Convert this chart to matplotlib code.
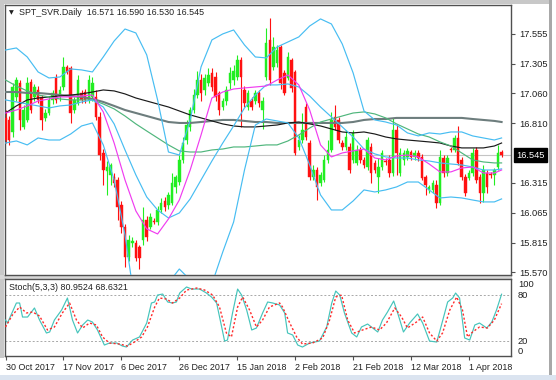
import matplotlib
matplotlib.use("Agg")
import matplotlib.pyplot as plt
import numpy as np

plt.rcParams['font.family'] = ['Liberation Sans', 'DejaVu Sans']

# ---------------- data ----------------
symbol_title = "SPT_SVR.Daily"
last_ohlc = [16.571, 16.590, 16.530, 16.545]

opens = [16.855, 16.838, 16.738, 17.03, 17.146, 16.78, 16.838, 17.155, 17.03, 17.088,
         17.03, 16.855, 16.896, 17.005, 17.188, 17.03, 17.113, 17.28, 17.27, 16.921,
         16.98, 17.063, 17.071, 17.005, 17.03, 17.03, 16.865, 16.563, 16.41, 16.38,
         16.36, 16.34, 16.13, 15.95, 15.70, 15.81, 15.81, 15.78, 15.84, 16.005,
         15.95, 16.00, 15.99, 16.09, 16.16, 16.13, 16.15, 16.28, 16.32, 16.505,
         16.67, 16.78, 16.92, 17.05, 17.17, 17.09, 17.15, 17.23, 17.20, 17.06,
         16.95, 17.00, 17.15, 17.17, 17.20, 17.34, 17.09, 16.95, 17.00, 17.00,
         17.06, 16.92, 17.20, 17.505, 17.28, 17.31, 17.445, 17.23, 17.19, 17.338,
         17.238, 16.613, 16.672, 16.946, 16.646, 16.363, 16.422, 16.313, 16.338, 16.505,
         16.588, 16.863, 16.838, 16.646, 16.613, 16.613, 16.505, 16.48, 16.588, 16.505,
         16.446, 16.613, 16.48, 16.363, 16.446, 16.496, 16.505, 16.396, 16.755, 16.396,
         16.505, 16.53, 16.571, 16.53, 16.563, 16.53, 16.363, 16.255, 16.255, 16.296,
         16.146, 16.521, 16.396, 16.596, 16.588, 16.688, 16.505, 16.363, 16.355, 16.396,
         16.588, 16.363, 16.23, 16.396, 16.388, 16.38, 16.446, 16.571]
highs = [16.92, 16.87, 17.15, 17.20, 17.17, 16.96, 17.196, 17.18, 17.14, 17.12,
         17.05, 16.93, 17.04, 17.09, 17.22, 17.12, 17.363, 17.30, 17.29, 17.03,
         17.21, 17.09, 17.10, 17.21, 17.196, 17.088, 16.907, 16.60, 16.50, 16.48,
         16.40, 16.36, 16.16, 15.97, 15.88, 15.86, 15.84, 15.80, 16.11, 16.04,
         16.06, 16.02, 16.12, 16.19, 16.20, 16.24, 16.40, 16.38, 16.55, 16.70,
         16.84, 16.95, 17.10, 17.25, 17.22, 17.22, 17.27, 17.27, 17.24, 17.08,
         17.02, 17.12, 17.28, 17.30, 17.38, 17.36, 17.12, 17.09, 17.03, 17.09,
         17.09, 17.03, 17.605, 17.69, 17.53, 17.46, 17.46, 17.255, 17.405, 17.355,
         17.255, 16.713, 16.896, 16.98, 16.672, 16.463, 16.446, 16.405, 16.546, 16.672,
         16.905, 16.963, 16.863, 16.672, 16.755, 16.646, 16.755, 16.63, 16.613, 16.53,
         16.696, 16.646, 16.505, 16.521, 16.588, 16.521, 16.546, 16.855, 16.80, 16.605,
         16.588, 16.605, 16.588, 16.588, 16.588, 16.555, 16.38, 16.296, 16.338, 16.338,
         16.588, 16.546, 16.546, 16.613, 16.713, 16.788, 16.53, 16.388, 16.422, 16.605,
         16.613, 16.388, 16.463, 16.422, 16.405, 16.438, 16.63, 16.590]
lows = [16.65, 16.63, 16.70, 17.00, 16.755, 16.76, 16.82, 16.90, 17.00, 16.98,
        16.755, 16.83, 16.88, 16.97, 16.98, 17.00, 17.09, 17.22, 16.813, 16.90,
        16.96, 16.98, 16.98, 16.98, 17.00, 16.84, 16.507, 16.297, 16.213, 16.30,
        16.28, 16.005, 15.90, 15.615, 15.66, 15.78, 15.66, 15.60, 15.80, 15.83,
        15.93, 15.97, 15.96, 16.06, 16.08, 16.10, 16.13, 16.23, 16.30, 16.48,
        16.64, 16.75, 16.90, 17.02, 17.00, 17.05, 17.12, 17.08, 17.00, 16.88,
        16.92, 16.96, 17.10, 17.13, 17.17, 16.78, 16.95, 16.92, 16.92, 16.97,
        16.95, 16.76, 17.17, 17.13, 17.255, 17.28, 17.10, 17.045, 17.17, 17.07,
        16.546, 16.588, 16.646, 16.672, 16.338, 16.338, 16.172, 16.288, 16.321, 16.48,
        16.571, 16.755, 16.646, 16.588, 16.588, 16.396, 16.48, 16.463, 16.48, 16.438,
        16.422, 16.313, 16.396, 16.23, 16.422, 16.463, 16.363, 16.371, 16.38, 16.371,
        16.463, 16.505, 16.505, 16.505, 16.496, 16.338, 16.213, 16.23, 16.23, 16.105,
        16.13, 16.363, 16.371, 16.571, 16.571, 16.463, 16.338, 16.205, 16.338, 16.371,
        16.313, 16.146, 16.155, 16.23, 16.355, 16.296, 16.422, 16.530]
closes = [16.672, 16.672, 17.113, 17.171, 16.838, 16.921, 17.146, 16.921, 17.113, 17.005,
          16.838, 16.896, 17.005, 17.063, 17.005, 17.088, 17.28, 17.238, 16.896, 17.005,
          17.171, 17.005, 17.005, 17.171, 17.146, 16.863, 16.548, 16.422, 16.45, 16.46,
          16.31, 16.11, 15.95, 15.70, 15.84, 15.83, 15.69, 15.69, 16.005, 15.86,
          16.03, 15.99, 16.09, 16.15, 16.11, 16.21, 16.31, 16.36, 16.505, 16.65,
          16.80, 16.92, 17.05, 17.17, 17.06, 17.19, 17.21, 17.11, 17.03, 16.92,
          17.00, 17.09, 17.23, 17.25, 17.34, 17.20, 16.98, 17.06, 16.95, 17.06,
          16.98, 17.00, 17.48, 17.17, 17.445, 17.42, 17.146, 17.06, 17.365, 17.105,
          16.563, 16.672, 16.755, 16.696, 16.363, 16.422, 16.28, 16.38, 16.505, 16.588,
          16.838, 16.78, 16.672, 16.613, 16.696, 16.422, 16.73, 16.588, 16.505, 16.463,
          16.672, 16.396, 16.422, 16.446, 16.563, 16.488, 16.396, 16.755, 16.563, 16.563,
          16.563, 16.58, 16.53, 16.563, 16.521, 16.355, 16.296, 16.28, 16.313, 16.146,
          16.53, 16.396, 16.521, 16.588, 16.688, 16.48, 16.363, 16.23, 16.396, 16.563,
          16.338, 16.23, 16.422, 16.28, 16.38, 16.422, 16.563, 16.545]

# indicator lines, sampled at these bar positions
ind_x = [0, 3, 6, 9, 12, 15, 18, 21, 24, 27, 30, 33, 36, 39, 42, 45, 48, 51, 54, 57,
         60, 63, 66, 69, 72, 75, 78, 81, 84, 87, 90, 93, 96, 99, 102, 105, 108, 111, 114,
         117, 120, 123, 126, 129, 132, 135, 137]
bb_upper = [17.421, 17.438, 17.363, 17.238, 17.188, 17.196, 17.263, 17.255, 17.238, 17.363,
            17.496, 17.596, 17.563, 17.380, 17.005, 16.571, 16.546, 16.838, 17.280, 17.505,
            17.555, 17.588, 17.463, 17.363, 17.355, 17.446, 17.488, 17.530, 17.621, 17.680,
            17.638, 17.471, 17.230, 16.913, 16.838, 16.821, 16.796, 16.730, 16.705, 16.730,
            16.721, 16.738, 16.738, 16.705, 16.688, 16.671, 16.688]
bb_middle = [17.005, 16.988, 16.971, 16.955, 16.938, 16.955, 16.963, 16.988, 17.005, 16.946,
             16.805, 16.588, 16.380, 16.196, 16.088, 16.021, 16.063, 16.180, 16.338, 16.496,
             16.646, 16.788, 16.938, 17.046, 17.130, 17.130, 17.138, 17.113, 17.038, 16.946,
             16.863, 16.780, 16.696, 16.596, 16.555, 16.530, 16.521, 16.521, 16.505, 16.496,
             16.480, 16.471, 16.463, 16.446, 16.421, 16.421, 16.430]
bb_lower = [16.646, 16.663, 16.630, 16.688, 16.671, 16.671, 16.721, 16.788, 16.813, 16.630,
            16.338, 15.880, 15.255, 15.046, 15.155, 15.480, 15.596, 15.505, 15.388, 15.471,
            15.738, 15.988, 16.421, 16.796, 16.846, 16.830, 16.813, 16.688, 16.463, 16.213,
            16.088, 16.088, 16.163, 16.255, 16.238, 16.255, 16.280, 16.321, 16.321, 16.255,
            16.188, 16.196, 16.188, 16.171, 16.155, 16.155, 16.180]
ma_magenta = [16.896, 16.921, 16.955, 16.996, 17.013, 17.030, 17.030, 17.038, 17.046, 16.905,
              16.646, 16.338, 16.080, 15.930, 15.888, 16.013, 16.171, 16.421, 16.713, 17.021,
              17.071, 17.096, 17.105, 17.113, 17.121, 17.171, 17.213, 17.130, 16.921, 16.630,
              16.530, 16.563, 16.580, 16.596, 16.521, 16.505, 16.538, 16.546, 16.530, 16.471,
              16.405, 16.405, 16.438, 16.446, 16.396, 16.396, 16.421]
ma_green = [17.171, 17.121, 17.080, 17.046, 17.030, 17.013, 17.005, 17.005, 17.005, 16.971,
            16.930, 16.871, 16.805, 16.746, 16.688, 16.630, 16.580, 16.571, 16.571, 16.588,
            16.596, 16.613, 16.613, 16.621, 16.630, 16.630, 16.663, 16.713, 16.771, 16.821,
            16.846, 16.871, 16.896, 16.905, 16.888, 16.855, 16.805, 16.763, 16.721, 16.696,
            16.655, 16.621, 16.563, 16.505, 16.488, 16.480, 16.480]
ma_black = [16.896, 16.955, 17.005, 17.021, 17.030, 17.038, 17.046, 17.055, 17.071, 17.088,
            17.080, 17.055, 17.021, 16.996, 16.971, 16.946, 16.913, 16.880, 16.855, 16.830,
            16.805, 16.788, 16.780, 16.780, 16.788, 16.796, 16.813, 16.821, 16.805, 16.788,
            16.763, 16.738, 16.730, 16.738, 16.721, 16.696, 16.680, 16.671, 16.663, 16.655,
            16.646, 16.621, 16.605, 16.605, 16.605, 16.621, 16.646]
ma_gray = [17.071, 17.071, 17.063, 17.063, 17.055, 17.046, 17.038, 17.030, 17.013, 16.988,
           16.955, 16.921, 16.896, 16.871, 16.846, 16.821, 16.813, 16.813, 16.821, 16.830,
           16.838, 16.838, 16.830, 16.821, 16.821, 16.813, 16.813, 16.813, 16.813, 16.813,
           16.813, 16.813, 16.821, 16.838, 16.846, 16.846, 16.855, 16.855, 16.855, 16.855,
           16.855, 16.855, 16.855, 16.846, 16.838, 16.830, 16.821]

stoch_main_x = [0, 0.55, 3.0, 3.9, 4.7, 6.1, 8.0, 9.4, 11.3, 12.2, 13.5, 15.5, 17.1, 18.5,
                19.9, 21.3, 22.7, 24.0, 25.4, 27.3, 28.7, 30.7, 32.3, 33.4, 35.1, 37.0, 39.0,
                40.3, 41.2, 42.0, 43.4, 44.8, 46.1, 47.2, 48.1, 50.0, 51.4, 53.6, 55.5, 56.9,
                58.3, 59.7, 60.5, 61.3, 62.7, 64.1, 65.2, 66.6, 68.0, 69.3, 71.0, 72.4, 73.8,
                75.7, 77.1, 77.9, 79.3, 80.7, 82.0, 84.0, 86.7, 88.7, 90.1, 91.2, 92.3, 93.6,
                95.6, 97.0, 98.3, 100.0, 101.4, 102.8, 104.1, 105.5, 107.2, 108.3, 109.9,
                111.6, 113.8, 115.2, 117.1, 119.1, 120.4, 122.1, 123.5, 124.3, 125.4, 126.8,
                128.2, 129.6, 130.9, 132.9, 134.3, 135.6, 137.0]
stoch_main = [47.3, 43.4, 69.5, 69.5, 51.2, 51.2, 63.0, 47.3, 30.4, 31.7, 47.3, 60.4, 76.0,
              47.3, 30.4, 40.8, 47.3, 44.7, 34.3, 14.7, 17.3, 17.3, 13.4, 12.1, 21.2, 25.2,
              43.4, 69.5, 70.8, 79.9, 81.2, 70.8, 69.5, 70.8, 82.5, 90.4, 87.7, 87.7, 82.5,
              77.3, 69.5, 38.2, 19.9, 21.2, 56.5, 87.7, 79.9, 60.4, 34.3, 36.9, 56.5, 70.8,
              69.5, 66.9, 56.5, 30.4, 27.8, 14.7, 12.1, 17.3, 19.9, 38.2, 69.5, 85.1, 79.9,
              56.5, 30.4, 25.2, 38.2, 42.1, 36.9, 31.7, 47.3, 57.8, 72.1, 56.5, 31.7, 43.4,
              55.2, 43.4, 19.9, 18.6, 40.8, 70.8, 76.0, 82.5, 76.0, 23.9, 21.2, 40.8, 43.4,
              36.9, 44.7, 60.4, 80.9524]
stoch_sig_x = [0, 1.9, 3.9, 5.8, 7.5, 9.4, 11.6, 13.5, 15.7, 17.7, 19.6, 21.3, 23.2, 25.1,
               26.8, 28.7, 31.5, 33.7, 35.6, 37.6, 39.2, 41.2, 42.5, 44.5, 46.1, 48.1, 50.0,
               52.8, 55.0, 57.2, 59.1, 61.0, 62.4, 64.1, 65.5, 67.4, 69.3, 71.0, 72.9, 75.7,
               76.5, 78.5, 80.4, 82.0, 84.8, 87.6, 89.5, 91.2, 92.8, 94.5, 96.4, 98.6, 101.1,
               103.3, 105.2, 107.5, 109.4, 111.0, 113.5, 115.2, 117.1, 119.1, 120.7, 122.7,
               124.6, 126.2, 127.6, 129.0, 130.9, 133.1, 135.0, 137.0]
stoch_signal = [38.2, 53.8, 64.3, 56.5, 57.8, 52.5, 34.3, 38.2, 56.5, 69.5, 47.3, 36.9, 43.4,
                40.8, 25.2, 17.3, 16.0, 13.4, 18.6, 25.2, 38.2, 64.3, 76.0, 74.7, 69.5, 76.0,
                86.4, 89.0, 86.4, 79.9, 64.3, 30.4, 25.2, 64.3, 77.3, 60.4, 38.2, 47.3, 64.3,
                69.5, 64.3, 43.4, 25.2, 16.0, 17.3, 23.9, 47.3, 77.3, 79.9, 47.3, 30.4, 34.3,
                38.2, 34.3, 43.4, 63.0, 51.2, 36.9, 44.7, 51.2, 30.4, 19.9, 30.4, 60.4, 77.3,
                60.4, 25.2, 31.7, 38.2, 36.9, 47.3, 68.6321]

price_ticks = [17.555, 17.305, 17.060, 16.810, 16.315, 16.065, 15.815, 15.570]
price_tick_labels = ["17.555", "17.305", "17.060", "16.810", "16.315", "16.065", "15.815", "15.570"]
date_tick_bars = [0, 16, 32, 48, 64, 80, 96, 112, 128]
date_tick_labels = ["30 Oct 2017", "17 Nov 2017", "6 Dec 2017", "26 Dec 2017", "15 Jan 2018",
                    "2 Feb 2018", "21 Feb 2018", "12 Mar 2018", "1 Apr 2018"]
stoch_levels = [80, 20]
stoch_tick_vals = [100, 80, 20, 0]
stoch_params = "Stoch(5,3,3)"

# ---------------- styling ----------------
W, H = 556, 380
FS = 6.4
UP = '#22ee22'
DN = '#ff1111'
BB = '#47bdf2'
MAG = '#f03cf0'
GRN = '#4fb67c'
BLK = '#1a1a1a'
GRY = '#6d7d7d'
SPINE = '#505050'
LW = 0.85

fig = plt.figure(figsize=(W / 100, H / 100), dpi=100)
fig.patch.set_facecolor('white')

# window chrome (grey bands / strip)
def px_rect(x0, y0, x1, y1, color):
    fig.add_artist(plt.Rectangle((x0 / W, 1 - y1 / H), (x1 - x0) / W, (y1 - y0) / H,
                                 transform=fig.transFigure, facecolor=color,
                                 edgecolor='none', zorder=0))

px_rect(0, 0, 551, 3.5, '#c8c8c8')        # top band
px_rect(0, 0, 3.5, 358, '#c8c8c8')        # left band
px_rect(0, 275, 512, 279, '#d6d6d6')      # separator between panels
px_rect(549, 0, 551.5, 375, '#a8a8a8')    # right window edge
px_rect(0, 375, 556, 380, '#dbe4f0')      # bottom strip

ax = fig.add_axes([5 / W, 1 - 275 / H, 506 / W, 270 / H])
ax2 = fig.add_axes([5 / W, 1 - 356.3 / H, 506 / W, 77.3 / H])

xlim = (-0.14, 139.6)

# candles
o = np.array(opens); h = np.array(highs); l = np.array(lows); c = np.array(closes)
idx = np.arange(len(o))
up = c >= o
ax.vlines(idx[up], l[up], h[up], color=UP, lw=0.8, zorder=2)
ax.vlines(idx[~up], l[~up], h[~up], color=DN, lw=0.8, zorder=2)
body_lo = np.minimum(o, c)
body_h = np.maximum(np.abs(c - o), 0.009)
ax.bar(idx[up], body_h[up], bottom=body_lo[up], width=0.7, color=UP, edgecolor=UP, lw=0.3, zorder=3)
ax.bar(idx[~up], body_h[~up], bottom=body_lo[~up], width=0.7, color=DN, edgecolor=DN, lw=0.3, zorder=3)

# indicator lines
ax.plot(ind_x, ma_gray, color=GRY, lw=1.5, zorder=4)
ax.plot(ind_x, ma_black, color=BLK, lw=LW, zorder=4)
ax.plot(ind_x, ma_green, color=GRN, lw=LW, zorder=4)
ax.plot(ind_x, bb_upper, color=BB, lw=LW, zorder=4)
ax.plot(ind_x, bb_middle, color=BB, lw=LW, zorder=4)
ax.plot(ind_x, bb_lower, color=BB, lw=LW, zorder=4)
ax.plot(ind_x, ma_magenta, color=MAG, lw=LW, zorder=4)

# current price line
ax.axhline(closes[-1], color='#c4c4c4', lw=0.8, zorder=1)

ax.set_xlim(*xlim)
ax.set_ylim(15.546, 17.796)
ax.set_xticks([])
ax.yaxis.tick_right()
ax.set_yticks(price_ticks)
ax.set_yticklabels(price_tick_labels)
ax.tick_params(axis='y', direction='out', length=3, width=0.8, color=SPINE, pad=3,
               labelsize=FS + 0.3, labelcolor='#202020')
for s in ax.spines.values():
    s.set_color(SPINE)
    s.set_linewidth(1.0)

# last price box
ax.annotate(f"{closes[-1]:.3f}", xy=(1.0, closes[-1]), xycoords=('axes fraction', 'data'),
            xytext=(4.0, 0), textcoords='offset points', va='center', ha='left',
            color='white', fontsize=FS + 0.3, annotation_clip=False,
            bbox=dict(boxstyle='square,pad=0.25', facecolor='black', edgecolor='black'))

# header
fig.text(9 / W, 1 - 12.3 / H, "\u25BC", fontsize=4.5, family='DejaVu Sans', va='center',
         ha='left', color='#202020')
fig.text(19 / W, 1 - 12.3 / H,
         f"{symbol_title}  " + " ".join(f"{v:.3f}" for v in last_ohlc),
         fontsize=FS, va='center', ha='left', color='#202020')

# stochastic panel
ax2.plot(stoch_main_x, stoch_main, color='#45c4bb', lw=LW, zorder=3)
ax2.plot(stoch_sig_x, stoch_signal, color='#ff2a2a', lw=1.0, ls=(0, (1.5, 1.5)), zorder=3)
for lv in stoch_levels:
    ax2.axhline(lv, color='#a8a8a8', lw=0.7, ls=(0, (2, 2)), zorder=1)
ax2.set_xlim(*xlim)
ax2.set_ylim(0, 100.8)
ax2.yaxis.tick_right()
ax2.set_yticks(stoch_tick_vals)
ax2.set_yticklabels([str(v) for v in stoch_tick_vals])
ax2.tick_params(axis='y', direction='out', length=0, pad=5, labelsize=FS + 0.3, labelcolor='#202020')
lbls = ax2.get_yticklabels()
lbls[0].set_va('top')
lbls[-1].set_va('bottom')
ax2.set_xticks(date_tick_bars)
ax2.set_xticklabels(date_tick_labels, ha='left')
ax2.tick_params(axis='x', direction='out', length=3, width=0.8, color=SPINE, pad=1.5,
                labelsize=FS, labelcolor='#202020')
for s in ax2.spines.values():
    s.set_color(SPINE)
    s.set_linewidth(1.0)
ax2.text(0.008, 0.89, f"{stoch_params} {stoch_main[-1]:.4f} {stoch_signal[-1]:.4f}",
         transform=ax2.transAxes, fontsize=FS, va='center', ha='left', color='#202020')

fig.savefig("out.png", dpi=100)
